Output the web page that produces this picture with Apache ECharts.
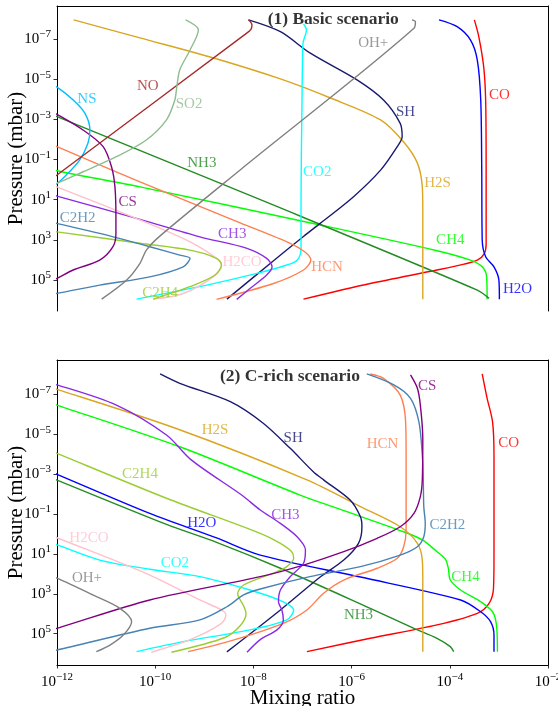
<!DOCTYPE html>
<html>
<head>
<meta charset="utf-8">
<script src="https://cdn.jsdelivr.net/npm/echarts@6/dist/echarts.min.js"></script>
<style>
  html, body { margin: 0; padding: 0; background: #fff; }
  #chart { width: 558px; height: 706px; }
</style>
</head>
<body>
<div id="chart"></div>
<script>
// Vertical abundance profiles. Each point: [log10 mixing ratio, log10 pressure (mbar)].

// ---- (1) Basic scenario ----
const basicCO   = [[-3.50,-7.95],[-3.41,-7.12],[-3.31,-5.62],[-3.27,-3.96],[-3.26,-0.64],[-3.26,3.20],[-3.30,3.70],[-3.44,4.01],[-3.71,4.21],[-4.26,4.50],[-5.62,5.17],[-6.98,5.95]];
const basicH2O  = [[-4.22,-7.95],[-3.85,-7.61],[-3.58,-6.95],[-3.44,-5.95],[-3.37,-3.96],[-3.35,-0.64],[-3.34,3.01],[-3.27,3.84],[-3.10,4.34],[-3.00,5.00],[-2.99,5.95]];
const basicCH4  = [[-12.3,-0.70],[-12.0,-0.44],[-10.31,0.36],[-6.64,2.26],[-4.26,3.54],[-3.58,4.01],[-3.34,4.34],[-3.25,4.84],[-3.24,5.95]];
const basicNH3  = [[-12.3,-3.43],[-12.0,-3.13],[-7.66,1.20],[-3.44,5.50],[-3.20,5.91]];
const basicH2S  = [[-11.66,-7.95],[-10.31,-7.05],[-8.88,-6.10],[-7.45,-5.01],[-6.43,-4.06],[-5.41,-2.97],[-4.94,-1.87],[-4.66,-0.82],[-4.56,0.37],[-4.55,1.52],[-4.55,5.95]];
const basicSH   = [[-8.10,-7.95],[-7.45,-7.36],[-6.84,-6.29],[-5.89,-4.96],[-5.35,-3.96],[-5.01,-2.80],[-4.97,-2.13],[-5.07,-1.64],[-5.41,-0.47],[-5.96,0.85],[-6.64,2.18],[-6.98,2.83],[-7.59,4.04],[-8.54,5.95]];
const basicCO2  = [[-6.98,-7.75],[-6.92,-7.45],[-6.99,-6.80],[-7.00,-6.00],[-7.01,-3.96],[-7.03,1.02],[-7.03,3.45],[-7.11,4.01],[-7.32,4.25],[-7.93,4.67],[-8.95,5.25],[-9.97,5.75],[-10.38,5.95]];
const basicHCN  = [[-12.3,-1.95],[-12.0,-1.64],[-10.31,0.11],[-8.27,2.15],[-7.25,3.17],[-6.95,3.60],[-6.83,4.00],[-6.98,4.50],[-7.59,5.17],[-8.75,5.96]];
const basicCH3  = [[-12.3,0.61],[-12.0,0.82],[-10.31,1.98],[-9.09,2.85],[-8.13,3.42],[-7.73,3.92],[-7.62,4.34],[-7.73,4.75],[-8.07,5.42],[-8.34,5.96]];
const basicH2CO = [[-12.3,0.05],[-12.0,0.36],[-10.31,2.01],[-9.29,3.10],[-8.75,3.92],[-8.65,4.25],[-8.82,4.84],[-9.43,5.67],[-10.04,5.95]];
const basicC2H4 = [[-12.3,2.50],[-12.0,2.60],[-10.31,3.17],[-9.29,3.51],[-8.75,3.92],[-8.65,4.25],[-8.78,4.75],[-9.29,5.33],[-10.04,5.95]];
const basicC2H2 = [[-12.3,2.00],[-12.0,2.18],[-11.13,2.68],[-10.11,3.34],[-9.50,3.76],[-9.29,3.92],[-9.43,4.34],[-10.11,4.84],[-11.13,5.25],[-12.0,5.66],[-12.3,5.80]];
const basicCS   = [[-12.3,-3.65],[-12.0,-3.25],[-11.47,-2.47],[-11.06,-1.64],[-10.89,-0.64],[-10.82,0.36],[-10.80,1.85],[-10.80,2.68],[-10.86,3.34],[-11.13,4.01],[-11.67,4.50],[-12.0,4.92],[-12.3,5.25]];
const basicOHp  = [[-11.09,5.95],[-10.58,5.00],[-10.31,4.17],[-10.18,3.51],[-9.90,2.80],[-8.27,-0.48],[-4.73,-7.53],[-4.70,-7.86],[-4.77,-7.95]];
const basicNS   = [[-12.3,-5.00],[-12.0,-4.60],[-11.67,-3.96],[-11.43,-3.30],[-11.33,-2.47],[-11.37,-1.81],[-11.54,-0.97],[-11.81,-0.23],[-12.0,0.19],[-12.3,0.55]];
const basicNO   = [[-12.2,0.13],[-12.0,-0.23],[-8.17,-7.23],[-8.05,-7.48],[-8.03,-7.70],[-8.10,-7.95]];
const basicSO2  = [[-12.3,0.45],[-12.0,0.19],[-11.47,-0.39],[-10.79,-1.14],[-10.18,-1.97],[-9.77,-2.97],[-9.60,-3.96],[-9.56,-4.62],[-9.50,-5.46],[-9.29,-6.45],[-9.12,-7.45],[-9.38,-7.95]];

// ---- (2) C-rich scenario ----
const crichCO   = [[-3.34,-8.02],[-3.24,-6.80],[-3.13,-5.63],[-3.10,-3.96],[-3.10,1.06],[-3.11,2.72],[-3.20,3.48],[-3.44,3.98],[-4.26,4.56],[-5.62,5.23],[-6.91,5.90]];
const crichH2O  = [[-12.3,-3.30],[-12.0,-2.99],[-10.11,-1.03],[-8.75,0.20],[-7.86,1.06],[-5.82,2.16],[-3.78,3.31],[-3.37,3.90],[-3.17,4.40],[-3.10,5.07],[-3.10,5.90]];
const crichCH4  = [[-12.3,-6.70],[-12.0,-6.46],[-9.50,-4.37],[-7.05,-1.95],[-6.30,-1.29],[-4.94,-0.11],[-4.56,0.30],[-4.26,0.89],[-4.09,1.26],[-4.03,1.72],[-3.99,2.31],[-3.78,2.81],[-3.37,3.40],[-3.13,3.90],[-3.05,4.56],[-3.03,5.90]];
const crichNH3  = [[-12.3,-3.00],[-12.0,-2.70],[-9.77,-0.48],[-8.75,0.42],[-7.45,1.72],[-5.62,3.73],[-4.73,4.73],[-4.26,5.23],[-3.99,5.65],[-3.92,5.90]];
const crichH2S  = [[-12.3,-7.45],[-12.0,-7.25],[-9.60,-5.31],[-6.91,-2.71],[-5.82,-1.37],[-5.01,-0.36],[-4.66,0.47],[-4.56,1.31],[-4.55,2.31],[-4.55,5.90]];
const crichSH   = [[-9.90,-8.02],[-9.50,-7.55],[-8.47,-6.63],[-7.80,-5.55],[-7.25,-4.29],[-6.78,-3.12],[-6.57,-2.71],[-6.03,-1.70],[-5.82,-0.86],[-5.79,-0.36],[-5.86,0.47],[-6.16,1.31],[-6.64,2.16],[-7.45,3.81],[-8.54,5.91]];
const crichCO2  = [[-12.3,0.35],[-12.0,0.55],[-11.13,1.31],[-10.11,1.77],[-9.09,2.14],[-8.07,2.81],[-7.39,3.40],[-7.18,3.81],[-7.32,4.31],[-8.07,4.81],[-9.43,5.40],[-10.38,5.90]];
const crichHCN  = [[-9.33,5.90],[-8.41,5.32],[-7.39,4.48],[-6.91,3.81],[-6.57,2.97],[-6.16,2.31],[-5.48,1.72],[-5.07,1.22],[-4.94,0.64],[-4.89,-0.20],[-4.89,-2.70],[-4.89,-3.96],[-4.90,-5.63],[-5.01,-6.96],[-5.35,-7.80],[-5.62,-8.02]];
const crichCH3  = [[-12.3,-7.60],[-12.0,-7.47],[-10.79,-6.46],[-9.77,-4.96],[-9.26,-3.70],[-8.24,-1.95],[-7.86,-1.20],[-7.45,-0.53],[-7.11,0.14],[-6.94,0.80],[-6.98,1.47],[-7.25,2.14],[-7.45,2.81],[-7.49,3.40],[-7.42,3.81],[-7.39,4.31],[-7.52,4.81],[-7.86,5.30],[-8.13,5.93]];
const crichH2CO = [[-12.3,-0.10],[-12.0,0.19],[-10.11,2.06],[-9.09,3.31],[-8.65,3.81],[-8.56,4.06],[-8.65,4.48],[-9.29,5.30],[-10.08,5.93]];
const crichC2H4 = [[-12.3,-4.35],[-12.0,-4.04],[-9.77,-1.79],[-7.86,-0.03],[-7.45,0.47],[-7.22,0.89],[-7.18,1.22],[-7.32,1.64],[-7.52,1.89],[-8.20,2.56],[-8.32,3.00],[-8.20,3.60],[-8.15,4.00],[-8.27,4.60],[-8.58,5.19],[-9.67,5.93]];
const crichC2H2 = [[-12.3,5.95],[-12.0,5.82],[-10.11,4.73],[-9.09,4.31],[-8.54,3.65],[-8.20,3.06],[-7.86,2.76],[-6.85,2.14],[-5.82,1.64],[-5.01,1.06],[-4.66,0.64],[-4.53,0.14],[-4.50,-0.53],[-4.53,-1.37],[-4.54,-2.70],[-4.56,-3.96],[-4.63,-5.63],[-4.80,-6.80],[-5.14,-7.47],[-5.69,-8.02]];
const crichCS   = [[-12.3,4.92],[-12.0,4.73],[-10.11,3.31],[-7.86,2.14],[-6.98,1.56],[-6.16,0.89],[-5.48,0.22],[-5.01,-0.36],[-4.73,-1.03],[-4.60,-1.87],[-4.56,-2.70],[-4.55,-4.79],[-4.60,-6.46],[-4.66,-7.30],[-4.80,-7.97]];
const crichOHp  = [[-12.3,1.95],[-12.0,2.22],[-11.27,3.06],[-10.72,3.73],[-10.48,4.40],[-10.65,5.07],[-10.92,5.57],[-11.20,5.90]];

// Axis tick values
const mixingTicks   = [1e-12, 1e-10, 1e-8, 1e-6, 1e-4, 1e-2];
const pressureTicks = [1e-7, 1e-5, 1e-3, 1e-1, 1e1, 1e3, 1e5];

// Panels: profile lists in drawing order
const basicProfiles = [
  ['CO', basicCO], ['H2O', basicH2O], ['CH4', basicCH4], ['NH3', basicNH3], ['H2S', basicH2S],
  ['SH', basicSH], ['CO2', basicCO2], ['HCN', basicHCN], ['CH3', basicCH3], ['H2CO', basicH2CO],
  ['C2H4', basicC2H4], ['C2H2', basicC2H2], ['CS', basicCS], ['OH+', basicOHp], ['NS', basicNS],
  ['NO', basicNO], ['SO2', basicSO2]
];
const crichProfiles = [
  ['CO', crichCO], ['H2O', crichH2O], ['CH4', crichCH4], ['NH3', crichNH3], ['H2S', crichH2S],
  ['SH', crichSH], ['CO2', crichCO2], ['HCN', crichHCN], ['CH3', crichCH3], ['H2CO', crichH2CO],
  ['C2H4', crichC2H4], ['C2H2', crichC2H2], ['CS', crichCS], ['OH+', crichOHp]
];

// Where each species name is written (log10 mixing ratio, log10 pressure)
const basicLabelAnchors = [
  ['NS',-11.39,-4.01],['NO',-10.15,-4.66],['SO2',-9.31,-3.76],['NH3',-9.05,-0.82],['CS',-10.56,1.12],
  ['C2H2',-11.58,1.91],['CH3',-8.43,2.71],['H2CO',-8.23,4.11],['C2H4',-9.90,5.65],['OH+',-5.56,-6.80],
  ['SH',-4.90,-3.36],['CO2',-6.70,-0.38],['H2S',-4.25,0.17],['CH4',-3.99,3.01],['HCN',-6.50,4.35],
  ['CO',-2.99,-4.21],['H2O',-2.62,5.45]
];
const crichLabelAnchors = [
  ['H2S',-8.78,-5.21],['C2H4',-10.31,-3.01],['H2O',-9.05,-0.55],['H2CO',-11.35,0.20],['CO2',-9.60,1.46],
  ['OH+',-11.39,2.21],['SH',-7.19,-4.81],['CH3',-7.35,-0.95],['HCN',-5.37,-4.51],['CS',-4.46,-7.42],
  ['C2H2',-4.05,-0.45],['CO',-2.80,-4.56],['CH4',-3.68,2.16],['NH3',-5.86,4.07]
];
const panelTitles = [['(1) Basic scenario', -7.72, -7.95], ['(2) C-rich scenario', -8.69, -7.87]];

const colors = {
  'CO': '#FF0000', 'H2O': '#0000FF', 'CH4': '#00FF00', 'NH3': '#228B22', 'H2S': '#DAA520',
  'SH': '#191970', 'CO2': '#00FFFF', 'HCN': '#FF7F50', 'CH3': '#8A2BE2', 'H2CO': '#FFC0CB',
  'C2H4': '#9ACD32', 'C2H2': '#4682B4', 'CS': '#800080', 'OH+': '#808080', 'NS': '#00BFFF',
  'NO': '#A52A2A', 'SO2': '#8FBC8F'
};

const SERIF = 'Liberation Serif';
const pow10 = e => Math.pow(10, e);
const toValues = pts => pts.map(([lx, lp]) => [pow10(lx), pow10(lp)]);

const tickRich = {
  b: { fontFamily: SERIF, fontSize: 15, color: '#000' },
  s: { fontFamily: SERIF, fontSize: 11, color: '#000', padding: [0, 0, 9, 0] }
};
function powerLabel(v) {
  const e = Math.round(Math.log10(v));
  return '{b|10}{s|' + (e < 0 ? '\u2212' + (-e) : String(e)) + '}';
}

// Pressure range of each panel (log10 mbar)
const panelYRange = [[-8.64, 6.54], [-8.72, 6.57]];

const grids = [
  { left: 57, right: 10, top: 6, height: 305, containLabel: false, outerBoundsMode: 'none' },
  { left: 57, right: 10, top: 360, height: 305, containLabel: false, outerBoundsMode: 'none' }
];

const frameLine = { show: true, onZero: false, lineStyle: { color: '#000', width: 1 } };
const noSplit = { show: false };

const xAxes = [];
const yAxes = [];
[0, 1].forEach(i => {
  const isBottom = i === 1;
  xAxes.push({
    type: 'log', logBase: 10, gridIndex: i, min: 1e-12, max: 1e-2,
    axisLine: isBottom ? frameLine : { show: false, onZero: false },
    axisTick: isBottom ? { show: true, customValues: mixingTicks, length: 3.5, lineStyle: { color: '#000', width: 0.8 } } : { show: false },
    axisLabel: isBottom ? { show: true, customValues: mixingTicks, formatter: powerLabel, rich: tickRich, margin: 7 } : { show: false },
    splitLine: noSplit,
    name: isBottom ? 'Mixing ratio' : '',
    nameLocation: 'middle', nameGap: 23, nameMoveOverlap: false,
    nameTextStyle: { fontFamily: SERIF, fontSize: 21, color: '#000' }
  });
  xAxes.push({
    type: 'value', gridIndex: i, position: 'top', min: 0, max: 1,
    axisLine: frameLine, axisTick: { show: false }, axisLabel: { show: false }, splitLine: noSplit
  });
  yAxes.push({
    type: 'log', logBase: 10, gridIndex: i, inverse: true,
    min: pow10(panelYRange[i][0]), max: pow10(panelYRange[i][1]),
    axisLine: frameLine,
    axisTick: { show: true, customValues: pressureTicks, length: 3.5, lineStyle: { color: '#000', width: 0.8 } },
    axisLabel: { show: true, customValues: pressureTicks, formatter: powerLabel, rich: tickRich, margin: 6 },
    splitLine: noSplit,
    name: 'Pressure (mbar)', nameLocation: 'middle', nameGap: 30, nameMoveOverlap: false,
    nameTextStyle: { fontFamily: SERIF, fontSize: 21, color: '#000' }
  });
  yAxes.push({
    type: 'value', gridIndex: i, position: 'right', min: 0, max: 1,
    axisLine: frameLine, axisTick: { show: false }, axisLabel: { show: false }, splitLine: noSplit
  });
});

const series = [];
[basicProfiles, crichProfiles].forEach((profiles, i) => {
  profiles.forEach(([name, pts]) => {
    series.push({
      type: 'line', name: name + (i ? ' (C-rich)' : ' (basic)'),
      xAxisIndex: 2 * i, yAxisIndex: 2 * i,
      data: toValues(pts),
      showSymbol: false, symbol: 'none', smooth: 0.3, clip: true, silent: true,
      lineStyle: { color: colors[name], width: 1.4 },
      itemStyle: { color: colors[name] },
      z: 2
    });
  });
});

[basicLabelAnchors, crichLabelAnchors].forEach((anchors, i) => {
  series.push({
    type: 'scatter', xAxisIndex: 2 * i, yAxisIndex: 2 * i, silent: true, z: 5,
    symbolSize: 1, itemStyle: { color: 'rgba(0,0,0,0)' },
    data: anchors.map(([name, lx, lp]) => ({
      value: [pow10(lx), pow10(lp)], name: name,
      label: { color: colors[name] }
    })),
    label: { show: true, position: 'inside', formatter: '{b}', fontFamily: SERIF, fontSize: 15 }
  });
});

panelTitles.forEach(([text, lx, lp], i) => {
  series.push({
    type: 'scatter', xAxisIndex: 2 * i, yAxisIndex: 2 * i, silent: true, z: 6,
    symbolSize: 1, itemStyle: { color: 'rgba(0,0,0,0)' },
    data: [{ value: [pow10(lx), pow10(lp)], name: text }],
    label: { show: true, position: 'right', distance: 0, formatter: '{b}',
             fontFamily: SERIF, fontSize: 17.5, fontWeight: 'bold', color: '#000' }
  });
});

const chart = echarts.init(document.getElementById('chart'), null, { renderer: 'canvas' });
chart.setOption({
  animation: false,
  backgroundColor: '#fff',
  grid: grids,
  xAxis: xAxes,
  yAxis: yAxes,
  series: series
});
</script>
</body>
</html>
